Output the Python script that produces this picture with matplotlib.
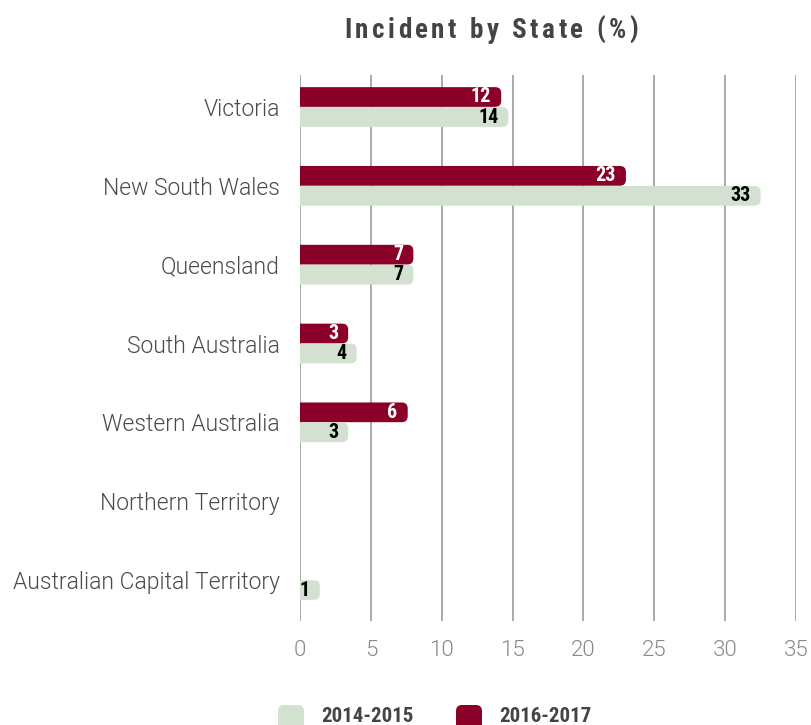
import matplotlib
matplotlib.use("Agg")
import matplotlib.pyplot as plt
from matplotlib import font_manager as fm
from matplotlib.patches import FancyBboxPatch

# ---------------- data ----------------
categories = ["Victoria", "New South Wales", "Queensland", "South Australia",
              "Western Australia", "Northern Territory", "Australian Capital Territory"]
values_2014 = [14.7, 32.5, 8.0, 4.0, 3.4, 0.0, 1.4]
values_2016 = [14.2, 23.0, 8.0, 3.4, 7.6, 0.0, 0.0]
labels_2014 = ["14", "33", "7", "4", "3", "", "1"]
labels_2016 = ["12", "23", "7", "3", "6", "", ""]
series_names = ["2014-2015", "2016-2017"]
x_ticks = [0, 5, 10, 15, 20, 25, 30, 35]
title = "Incident by State (%)"

# ---------------- fonts ----------------
names = {f.name for f in fm.fontManager.ttflist}
def pick(*cands):
    for c in cands:
        if c in names:
            return c
    return "DejaVu Sans"
light_font = pick("Roboto", "Lato", "Open Sans")
cond_font = pick("Roboto Condensed", "Liberation Sans Narrow", "Open Sans Condensed", "Roboto")

C2014 = "#d3e2d0"
C2016 = "#8b0028"

W, H = 811, 725
fig = plt.figure(figsize=(W / 100, H / 100), dpi=100)

# main axes
ax_left, ax_right, ax_top, ax_bottom = 300, 796, 75, 621
ax = fig.add_axes([ax_left / W, 1 - ax_bottom / H, (ax_right - ax_left) / W, (ax_bottom - ax_top) / H])
ax.set_xlim(0, 35)
ax.set_ylim(6.52, -0.406)
for s in ax.spines.values():
    s.set_visible(False)
ax.set_axisbelow(True)
ax.set_xticks(x_ticks)
ax.grid(axis="x", color="#a3a3a3", lw=1.3)
ax.grid(axis="y", visible=False)
ax.tick_params(axis="both", length=0)
ax.tick_params(axis="x", pad=14, labelsize=16, labelcolor="#888888")
ax.tick_params(axis="y", pad=14.5, labelsize=16.5, labelcolor="#4a4a4a")
ax.set_yticks(range(len(categories)))
ax.set_yticklabels(categories)
for lab in ax.get_xticklabels() + ax.get_yticklabels():
    lab.set_fontfamily(light_font)
    lab.set_fontweight(300)

# rounded bars
px_x = (ax_right - ax_left) / 35.0
px_y = (ax_bottom - ax_top) / (6.52 + 0.406)
r_px = 6
rx = r_px / px_x
ry = r_px / px_y
bh = 0.25
gap = 0.004

def rbar(y0, v, color):
    if v <= 0:
        return
    p = FancyBboxPatch((-rx, y0), v + rx, bh,
                       boxstyle=f"round,pad=0,rounding_size={rx}",
                       mutation_aspect=ry / rx, fc=color, ec="none", zorder=3)
    ax.add_patch(p)

lab_kw = dict(textcoords="offset pixels", ha="right", va="center",
              fontsize=14.5, fontweight="bold", family=cond_font, zorder=4)
for i in range(len(categories)):
    y16 = i - bh - gap / 2
    y14 = i + gap / 2
    rbar(y16, values_2016[i], C2016)
    rbar(y14, values_2014[i], C2014)
    if labels_2016[i]:
        ax.annotate(labels_2016[i], xy=(values_2016[i], y16 + bh / 2), xytext=(-10, 0),
                    color="white", **lab_kw)
    if labels_2014[i]:
        ax.annotate(labels_2014[i], xy=(values_2014[i], y14 + bh / 2), xytext=(-10, 0),
                    color="black", **lab_kw)

# overlay for title and legend (pixel coordinates)
ov = fig.add_axes([0, 0, 1, 1], zorder=5)
ov.set_xlim(0, W)
ov.set_ylim(H, 0)
ov.axis("off")
ov.patch.set_alpha(0)

# letter-spaced title
renderer = fig.canvas.get_renderer()
tkw = dict(fontsize=19.5, fontweight="bold", family=cond_font, color="#444444")
tmp = ov.text(0, 0, "", **tkw)
def tw(t):
    tmp.set_text(t)
    return tmp.get_window_extent(renderer).width
base = tw("||")
adv = [tw("|" + ch + "|") - base for ch in title]
tmp.remove()
spacing = 3.5
total = sum(adv) + spacing * (len(title) - 1)
x = 491 - total / 2
for ch, a in zip(title, adv):
    ov.text(x, 38, ch, ha="left", va="baseline", **tkw)
    x += a + spacing

# legend
leg = [(278, C2014, series_names[0]), (456, C2016, series_names[1])]
for lx, col, name in leg:
    ov.add_patch(FancyBboxPatch((lx, 705), 26, 28, boxstyle="round,pad=0,rounding_size=6",
                                fc=col, ec="none"))
    ov.text(lx + 43, 717, name, ha="left", va="center", fontsize=15,
            fontweight="bold", family=cond_font, color="#444444")

fig.savefig("out.png", dpi=100)
